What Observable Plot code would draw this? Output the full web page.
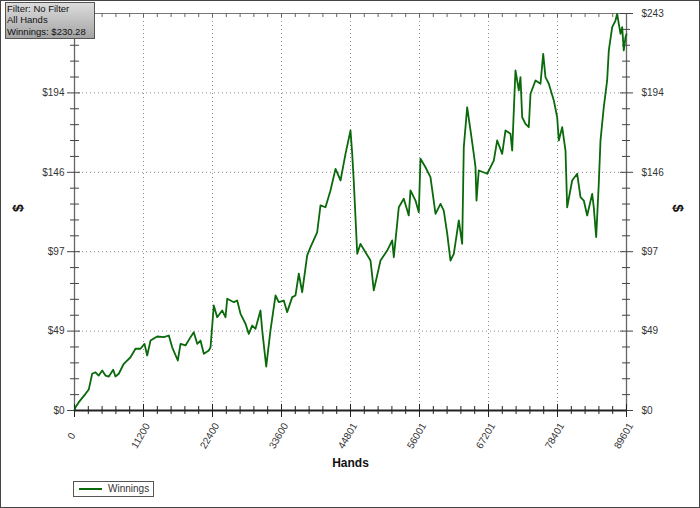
<!DOCTYPE html>
<html>
<head>
<meta charset="utf-8">
<script src="https://cdn.jsdelivr.net/npm/d3@7"></script>
<script src="https://cdn.jsdelivr.net/npm/@observablehq/plot@0.6"></script>
<style>
  html, body { margin: 0; padding: 0; background: #fff; }
  #wrap { position: relative; width: 700px; height: 508px; overflow: hidden; font-family: "Liberation Sans", Arial, sans-serif; }
  #frame { position: absolute; left: 0; top: 0; width: 700px; height: 508px; box-sizing: border-box; border: 1px solid #444; pointer-events: none; }
  #filterbox { position: absolute; left: 5px; top: 2px; width: 90px; height: 37px; box-sizing: border-box; border: 1px solid #555;
            background: linear-gradient(#dcdcdc, #a4a4a4); }
  #filter { position: absolute; left: 7px; top: 3px; color: #111; white-space: nowrap; font-size: 9.5px; line-height: 11.3px; }
  #legend { position: absolute; left: 73px; top: 481px; width: 81px; height: 16px; box-sizing: border-box; border: 1px solid #555; background: #fff; }
  #legend .swatch { position: absolute; left: 5px; top: 6px; width: 23px; height: 2px; background: #0a690a; }
  #legend .lbl { position: absolute; left: 34px; top: 1px; font-size: 10px; line-height: 12px; color: #333; }
</style>
</head>
<body>
<div id="wrap">
  <div id="chart"></div>
  <div id="filterbox"></div>
  <div id="filter"></div>
  <div id="legend"><div class="swatch"></div><div class="lbl"></div></div>
  <div id="frame"></div>
</div>
<script>
// ---- data ----
const hands = [0,162,700,1790,2320,2870,3410,3940,4500,5030,5570,6280,6650,7190,8000,9090,9900,10710,11360,11800,12340,13420,14490,15310,15860,16770,17210,18020,18830,19360,19920,20450,20990,21800,22080,22610,23160,23970,24510,24790,25860,26410,26950,27760,28290,28840,29380,30190,30470,31120,31810,32630,33160,33970,34520,35340,35870,36410,36960,37770,38310,39390,39930,40740,41550,42370,43180,43990,44800,45080,45340,45890,46420,47230,48050,48580,49670,50760,51570,51830,52640,53450,54260,54540,55350,55890,56160,56970,57780,58600,59410,59940,60500,60760,61030,61570,62380,62930,63190,63740,64280,64810,65090,65250,65620,66990,68060,68610,69420,69960,70770,71050,71310,71580,72120,72390,72670,73200,73740,74020,74830,75640,76080,76450,76990,77800,78350,78610,79160,79700,79970,80780,81600,82130,82670,83220,84030,84290,84680,85100,85380,85910,86460,86730,87280,87810,88090,88350,88630,88900,89160,89440,89601];
const winnings = [0,2.0,5.1,10.2,12.9,22.5,23.4,21.4,24.5,21.4,20.8,24.9,20.8,22.5,28.6,32.6,37.8,37.8,40.8,33.7,42.8,45.3,44.9,45.9,38.7,30.6,40.8,39.8,44.9,47.9,40.8,42.8,34.7,36.7,38.7,64.3,57.1,61.2,57.1,68.4,66.3,67.3,59.2,53.1,46.9,52.0,50.0,61.2,49.0,26.9,49.0,70.4,66.3,67.3,60.2,69.4,70.4,83.7,72.4,94.9,100.0,109.1,125.5,124.4,134.7,147.9,140.8,157.1,171.4,157.1,139.7,95.9,102.0,96.9,91.8,73.5,91.8,97.9,104.1,93.8,124.4,129.6,119.4,134.7,128.5,121.4,154.1,148.9,142.8,120.4,126.5,122.4,108.2,100.0,91.8,95.9,116.3,102.0,161.2,185.6,171.4,157.1,148.9,128.5,146.9,144.9,153.0,165.3,157.1,171.4,169.4,159.1,183.6,208.1,195.9,204.0,179.5,175.5,173.4,193.9,202.0,200.0,218.3,204.0,200.0,189.8,179.5,165.3,173.4,159.1,124.4,140.8,144.9,130.6,128.5,119.4,132.6,124.4,106.1,138.8,165.3,185.6,202.0,220.4,234.6,238.7,242.8,236.7,230.6,234.6,220.4,228.5,230.28];

const xDomain = [0, 89601];
const yDomain = [0, 243];
const xTicks = [0, 11200.125, 22400.25, 33600.375, 44800.5, 56000.625, 67200.75, 78400.875, 89601];
const xTickLabels = ["0", "11200", "22400", "33600", "44801", "56001", "67201", "78401", "89601"];
const yTicks = [0, 48.6, 97.2, 145.8, 194.4, 243];
const yTickLabels = ["$0", "$49", "$97", "$146", "$194", "$243"];
const xTitle = "Hands";
const yTitle = "$";
const seriesName = "Winnings";
const filterLines = ["Filter: No Filter", "All Hands", "Winnings: $230.28"];

// ---- layout ----
const W = 700, H = 508;
const mL = 74, mR = 74, mT = 13, mB = 98;
const PW = W - mL - mR, PH = H - mT - mB;

const minor = (ticks) => ticks.slice(1).flatMap((t, i) => [1, 2, 3, 4].map(k => ticks[i] + k * (t - ticks[i]) / 5));
const minorX = minor(xTicks);
const minorY = minor(yTicks);
const allX = xTicks.concat(minorX);

const rows = hands.map((h, i) => ({hand: h, win: winnings[i]}));
const xLab = xTicks.map((v, i) => ({v, label: xTickLabels[i]}));
const yLab = yTicks.map((v, i) => ({v, label: yTickLabels[i]}));
const inner = (arr) => arr.slice(1, -1);

const grid = {stroke: "#8a8a8a", strokeDasharray: "1,3", strokeWidth: 1};
const tickStyle = {stroke: "#444", strokeWidth: 1};

const chart = Plot.plot({
  width: W, height: H,
  marginLeft: mL, marginRight: mR, marginTop: mT, marginBottom: mB,
  x: {domain: xDomain, axis: null},
  y: {domain: yDomain, axis: null},
  style: {fontFamily: "'Liberation Sans', Arial, sans-serif", fontSize: "10px", background: "transparent", overflow: "visible"},
  marks: [
    // grid
    Plot.ruleX(inner(xTicks), grid),
    Plot.ruleY(inner(yTicks), grid),
    // top line and ticks
    Plot.ruleY([yDomain[1]], {stroke: "#777", strokeWidth: 1}),
    Plot.ruleX(allX, {stroke: "#666", strokeWidth: 1, insetBottom: PH - 4}),
    // left / right axis lines
    Plot.ruleX(xDomain, {stroke: "#666", strokeWidth: 1.3}),
    // left ticks
    Plot.ruleY(yTicks, {...tickStyle, insetLeft: -7, insetRight: PW - 6}),
    Plot.ruleY(minorY, {...tickStyle, insetLeft: -4, insetRight: PW - 5}),
    // right ticks
    Plot.ruleY(yTicks, {...tickStyle, insetLeft: PW - 6, insetRight: -7}),
    Plot.ruleY(minorY, {...tickStyle, insetLeft: PW - 4, insetRight: -4}),
    // bottom ticks
    Plot.ruleX(xTicks, {...tickStyle, stroke: "#222", insetTop: PH - 6, insetBottom: -7}),
    Plot.ruleX(minorX, {...tickStyle, stroke: "#222", insetTop: PH - 4, insetBottom: -4}),
    // data line
    Plot.line(rows, {x: "hand", y: "win", stroke: "#0a690a", strokeWidth: 1.8, strokeLinejoin: "round"}),
    // bottom axis line
    Plot.ruleY([yDomain[0]], {stroke: "#222", strokeWidth: 2}),
    // tick labels
    Plot.text(yLab, {y: "v", text: "label", frameAnchor: "left", textAnchor: "end", dx: -10, fill: "#333", fontSize: 10}),
    Plot.text(yLab, {y: "v", text: "label", frameAnchor: "right", textAnchor: "start", dx: 15, fill: "#333", fontSize: 10}),
    Plot.text(xLab, {x: "v", text: "label", frameAnchor: "bottom", dy: 27, rotate: -60, fill: "#333", fontSize: 10}),
    // axis titles
    Plot.text([yTitle], {frameAnchor: "left", dx: -56, rotate: -90, fontWeight: "bold", fontSize: 14, fill: "#111"}),
    Plot.text([yTitle], {frameAnchor: "right", dx: 51, rotate: 90, fontWeight: "bold", fontSize: 14, fill: "#111"}),
    Plot.text([xTitle], {frameAnchor: "bottom", dy: 56, fontWeight: "bold", fontSize: 12, fill: "#111"})
  ]
});
document.getElementById("chart").appendChild(chart);
document.getElementById("filter").innerHTML = filterLines.join("<br>");
document.querySelector("#legend .lbl").textContent = seriesName;
</script>
</body>
</html>
